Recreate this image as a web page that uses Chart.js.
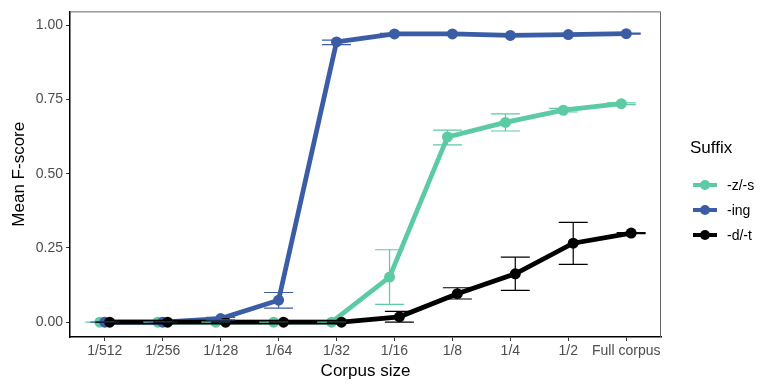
<!DOCTYPE html>
<html lang="en">
<head>
    <meta charset="UTF-8">
    <title>Mean F-score by corpus size</title>
    <style>
        body {
            margin: 0;
            background-color: #fff;
            font-family: 'Liberation Sans', Arial, sans-serif;
        }

        .wrap {
            position: relative;
            width: 764px;
            height: 384px;
        }

        .legend {
            position: absolute;
            left: 690px;
            top: 138px;
            color: #000;
        }

        .legend h3 {
            margin: 0 0 14px 0;
            font-size: 17px;
            font-weight: normal;
        }

        .legend .item {
            display: flex;
            align-items: center;
            height: 25px;
            font-size: 14px;
        }

        .legend .key {
            position: relative;
            width: 24px;
            height: 10px;
            margin: 0 10px 0 3px;
        }

        .legend .key span {
            position: absolute;
            left: 0;
            top: 3px;
            width: 24px;
            height: 4px;
        }

        .legend .key i {
            position: absolute;
            left: 7px;
            top: 0;
            width: 10px;
            height: 10px;
            border-radius: 50%;
        }
    </style>
</head>
<body>
    <div class="wrap">
        <canvas id="chart" width="764" height="384"></canvas>
        <div class="legend" id="legend">
            <h3>Suffix</h3>
        </div>
    </div>

    <script src="https://cdn.jsdelivr.net/npm/chart.js"></script>
    <script>
        const categories = ['1/512', '1/256', '1/128', '1/64', '1/32', '1/16', '1/8', '1/4', '1/2', 'Full corpus'];
        const yTicks = [0, 0.25, 0.5, 0.75, 1];

        // -z/-s
        const zsMean = [0, 0, 0, 0, 0, 0.152, 0.624, 0.673, 0.714, 0.736];
        const zsLow  = [0, 0, 0, 0, 0, 0.060, 0.597, 0.644, 0.708, 0.733];
        const zsHigh = [0, 0, 0, 0, 0, 0.244, 0.647, 0.702, 0.720, 0.739];

        // -ing
        const ingMean = [0, 0, 0.012, 0.074, 0.944, 0.971, 0.971, 0.966, 0.969, 0.972];
        const ingLow  = [0, 0, 0.008, 0.047, 0.935, 0.969, 0.969, 0.964, 0.967, 0.970];
        const ingHigh = [0, 0, 0.016, 0.100, 0.950, 0.973, 0.973, 0.968, 0.971, 0.974];

        // -d/-t
        const dtMean = [0, 0, 0, 0, 0, 0.018, 0.096, 0.163, 0.266, 0.300];
        const dtLow  = [0, 0, 0, 0, 0, 0.000, 0.078, 0.107, 0.195, 0.298];
        const dtHigh = [0, 0, 0, 0, 0, 0.036, 0.116, 0.219, 0.336, 0.302];

        const series = [
            { label: '-z/-s', color: '#5ccba3', mean: zsMean, low: zsLow, high: zsHigh, dodge: -0.085, order: 2 },
            { label: '-ing', color: '#3a5da5', mean: ingMean, low: ingLow, high: ingHigh, dodge: 0, order: 1 },
            { label: '-d/-t', color: '#000000', mean: dtMean, low: dtLow, high: dtHigh, dodge: 0.085, order: 0 }
        ];

        // html legend
        const legendEl = document.getElementById('legend');
        series.forEach(s => {
            const row = document.createElement('div');
            row.className = 'item';
            row.innerHTML = '<div class="key"><span style="background:' + s.color + '"></span><i style="background:' + s.color + '"></i></div>' + s.label;
            legendEl.appendChild(row);
        });

        // error bars + panel border
        const errorBars = {
            id: 'errorBars',
            beforeDatasetsDraw(chart) {
                const { ctx, chartArea } = chart;
                ctx.save();
                ctx.strokeStyle = '#666';
                ctx.lineWidth = 1;
                ctx.beginPath();
                ctx.moveTo(chartArea.left, chartArea.top + 0.5);
                ctx.lineTo(chartArea.right - 0.5, chartArea.top + 0.5);
                ctx.lineTo(chartArea.right - 0.5, chartArea.bottom);
                ctx.stroke();
                ctx.restore();
            },
            afterDatasetsDraw(chart) {
                const { ctx, scales: { x, y } } = chart;
                ctx.save();
                ctx.lineWidth = 1.2;
                series.forEach(s => {
                    ctx.strokeStyle = s.color;
                    s.mean.forEach((m, i) => {
                        const cx = x.getPixelForValue(i + s.dodge);
                        const half = x.getPixelForValue(0.25) - x.getPixelForValue(0);
                        const yl = y.getPixelForValue(s.low[i]);
                        const yh = y.getPixelForValue(s.high[i]);
                        ctx.beginPath();
                        ctx.moveTo(cx, yl);
                        ctx.lineTo(cx, yh);
                        ctx.moveTo(cx - half, yl);
                        ctx.lineTo(cx + half, yl);
                        ctx.moveTo(cx - half, yh);
                        ctx.lineTo(cx + half, yh);
                        ctx.stroke();
                    });
                });
                ctx.restore();
            }
        };

        const ctx = document.getElementById('chart').getContext('2d');

        new Chart(ctx, {
            type: 'line',
            data: {
                datasets: series.map(s => ({
                    label: s.label,
                    data: s.mean.map((v, i) => ({ x: i + s.dodge, y: v })),
                    borderColor: s.color,
                    backgroundColor: s.color,
                    borderWidth: 4.8,
                    pointRadius: 5.5,
                    pointBorderWidth: 0,
                    pointHoverRadius: 5.5,
                    order: s.order,
                    fill: false,
                    tension: 0
                }))
            },
            options: {
                responsive: false,
                animation: false,
                layout: {
                    padding: { top: 10, right: 103, left: 0, bottom: 0 }
                },
                plugins: {
                    legend: { display: false },
                    tooltip: { enabled: false }
                },
                scales: {
                    x: {
                        type: 'linear',
                        min: -0.6,
                        max: 9.6,
                        afterBuildTicks: axis => {
                            axis.ticks = categories.map((c, i) => ({ value: i }));
                        },
                        afterFit: axis => { axis.height = 47; },
                        ticks: {
                            callback: v => categories[v],
                            color: '#4d4d4d',
                            font: { size: 14, family: "'Liberation Sans', Arial, sans-serif" },
                            padding: 2,
                            maxRotation: 0,
                            autoSkip: false
                        },
                        grid: {
                            drawOnChartArea: false,
                            drawTicks: true,
                            tickLength: 4,
                            color: '#333'
                        },
                        border: { display: true, color: '#000', width: 1.5 },
                        title: {
                            display: true,
                            text: 'Corpus size',
                            color: '#000',
                            font: { size: 17, family: "'Liberation Sans', Arial, sans-serif" },
                            padding: { top: 0, bottom: 2 }
                        }
                    },
                    y: {
                        min: -0.05,
                        max: 1.047,
                        afterBuildTicks: axis => {
                            axis.ticks = yTicks.map(v => ({ value: v }));
                        },
                        afterFit: axis => { axis.width = 70; },
                        ticks: {
                            callback: v => v.toFixed(2),
                            color: '#4d4d4d',
                            font: { size: 14, family: "'Liberation Sans', Arial, sans-serif" },
                            padding: 3
                        },
                        grid: {
                            drawOnChartArea: false,
                            drawTicks: true,
                            tickLength: 4,
                            color: '#333'
                        },
                        border: { display: true, color: '#000', width: 1.5 },
                        title: {
                            display: true,
                            text: 'Mean F-score',
                            color: '#000',
                            font: { size: 17, family: "'Liberation Sans', Arial, sans-serif" },
                            padding: { top: 9, bottom: 0 }
                        }
                    }
                }
            },
            plugins: [errorBars]
        });
    </script>
</body>
</html>
